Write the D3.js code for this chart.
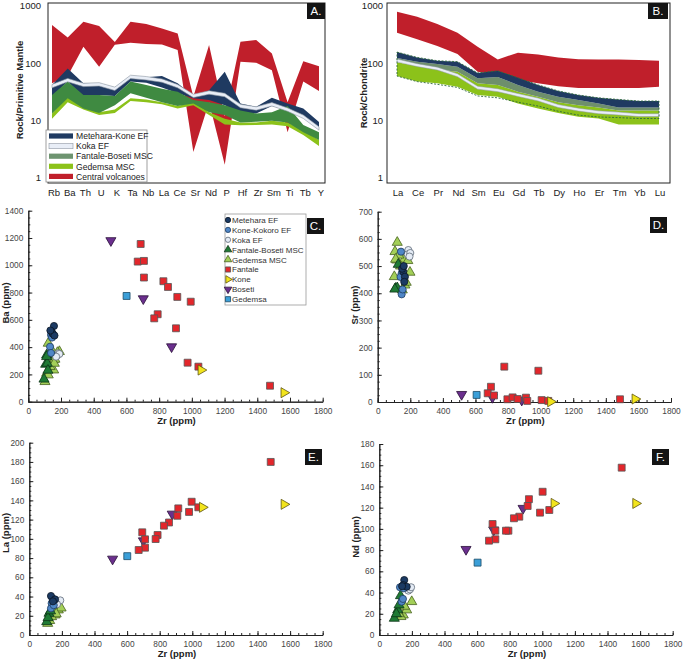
<!DOCTYPE html>
<html><head><meta charset="utf-8">
<script src="https://cdn.jsdelivr.net/npm/d3@7"></script>
<style>body{margin:0;background:#fff}svg{display:block}text{font-family:"Liberation Sans",Arial,sans-serif}</style>
</head><body><svg id="c" width="685" height="662"></svg>
<script>
// ---------- Panel A data (normalised to primitive mantle) ----------
const elemA = ["Rb","Ba","Th","U","K","Ta","Nb","La","Ce","Sr","Nd","P","Hf","Zr","Sm","Ti","Tb","Y"];
const cvA_hi = [466,283,532,447,235,532,484,407,333,26,208,12,238,255,149,21,109,89];
const cvA_lo = [45,60,195,87,210,229,217,213,170,2.85,21,1.7,107,102,76,6.3,48,33];
const mkA_hi = [42,81,45,45,38,60,57,60,45,27,34,71,20,17.5,25,20,16.3,9.5];
const mkA_lo = [26,48,26,28,27,48,46,38,30,24.6,23,18.6,14,13.3,18,15,11.7,7.3];
const kokaA  = [40,51,42,43,36,58,55,50,40,27,31,28,18,16.3,19.3,15.6,11.7,7.3];
const fbA_hi = [28,48,28,28,27,48,42,36,32,23,21,18.6,15,13.3,14,18,8.4,6.3];
const fbA_lo = [13.3,24.6,16.3,13.6,18.6,30,25,21,18,20,14,12.5,9.3,9.6,10,9.3,6.3,4.6];
const gmA_hi = [13.3,26,17.5,14,15.6,24.6,23.5,21,18,21,14,10.8,9.3,9.3,10,9.3,6.8,4.6];
const gmA_lo = [10.8,21,15.6,12.5,13.6,22,21,19.3,16.3,18.6,12.5,8.6,8.3,8.4,8.6,8,5.6,3.6];

// ---------- Panel B data (normalised to chondrite) ----------
const elemB = ["La","Ce","Pr","Nd","Sm","Eu","Gd","Tb","Dy","Ho","Er","Tm","Yb","Lu"];
const cvB_hi = [796,651,484,342,195,117,153,143,127,118,117,117,114,111];
const cvB_lo = [342,262,200,145,71,62,51,45,40,37,37,37,37,39];
const mkB_hi = [157,127,111,107,68,74,56,42,33,28,25,23.4,22,22];
const mkB_lo = [124,107,97,87,55,58,42,32,26,23,20,17,17,17];
const fbB_lo = [118,90,78,71,45,42,32,26,21,18.6,17,15,15,15];
const gmB_hi = [104,90,78,71,45,42,32,26,21,18.6,17,15,15,15];
const gmB_lo = [60,48,45,39,28,26,20,16.3,13.6,11.7,10.9,8.6,8.6,8.6];
const kokaB  = [112,93,81,62,37.6,34,28,23.4,18,15.6,14,13.3,12.5,12.5];
const fbOutlineB_lo = [60,48,43,38,27,25,21,18,14.6,12.5,11.6,11.3,10.9,10.9];

const tickLog = [1,10,100,1000];
const legendA = ["Metehara-Kone EF","Koka EF","Fantale-Boseti MSC","Gedemsa MSC","Central volcanoes"];

// ---------- Scatter data [Zr, value] ----------
// Panel C: Ba
const meteharaC = [[157,555],[143,513],[150,498],[160,485],[135,522]];
const koneKokoroC = [[139,489],[133,403],[139,357],[150,492],[145,470]];
const kokaC = [[183,355],[175,337],[190,350],[170,330]];
const fbMscC = [[112,342],[106,274],[96,165],[116,281],[112,330],[120,230]];
const gmMscC = [[122,428],[153,306],[155,232],[112,208],[190,367],[102,147],[133,257],[163,311],[143,379],[159,281],[122,196],[178,360]];
const fantaleC = [[687,1156],[669,1027],[707,1032],[707,910],[826,883],[854,841],[911,768],[993,733],[791,641],[770,611],[903,538],[974,286],[1040,257],[1478,117]];
const koneC = [[1056,232],[1563,66]];
const bosetiC = [[505,1181],[703,755],[876,403]];
const gedemsaC = [[601,775]];
// Panel D: Sr
const meteharaD = [[157,479],[167,461],[163,442],[150,490],[160,500]];
const koneKokoroD = [[143,553],[147,473],[147,396],[153,414],[140,460]];
const kokaD = [[188,559],[184,543],[200,548],[195,535]];
const fbMscD = [[110,418],[126,506],[120,420],[105,415]];
const gmMscD = [[120,587],[106,553],[117,522],[198,477],[163,525],[102,461],[167,430],[151,412],[185,520],[130,540],[140,500],[110,525],[175,440]];
const fantaleD = [[777,130],[986,115],[695,56],[675,32],[714,24],[796,10],[828,17],[859,11],[910,16],[918,4],[1006,7],[1047,4],[1487,10]];
const koneD = [[1061,1],[1579,11]];
const bosetiD = [[515,28],[704,17],[884,7]];
const gedemsaD = [[607,26]];
// Panel E: La
const meteharaE = [[133,40.6],[158,37],[145,35]];
const koneKokoroE = [[137,33],[133,27.7],[150,31],[142,38]];
const kokaE = [[178,34.6],[190,36],[170,32]];
const fbMscE = [[107,13.8],[121,22.5],[115,18],[130,25]];
const gmMscE = [[178,26],[158,20.8],[137,19],[113,12],[195,28],[150,24],[125,15],[165,22]];
const fantaleE = [[1481,180],[996,138.6],[914,131.7],[1037,132.8],[980,128],[908,124],[857,117],[826,113.7],[787,104],[775,99.8],[693,106.8],[710,99.5],[710,90.8],[671,88.4]];
const koneE = [[1062,132.8],[1563,135.9]];
const bosetiE = [[511,79],[700,98],[877,125.8]];
const gedemsaE = [[601,82]];
// Panel F: Nd
const meteharaF = [[153,51.8],[147,47],[168,45.5],[140,46]];
const koneKokoroF = [[137,31.4],[127,45],[145,34],[150,44]];
const kokaF = [[178,41.8],[188,43],[195,45]];
const fbMscF = [[92,15.7],[113,23.6],[121,28.3],[130,37],[105,20]];
const gmMscF = [[199,31.4],[147,18.8],[168,23.6],[133,17.3],[155,27],[120,20]];
const fantaleF = [[1487,157.7],[1002,135],[918,128],[910,121.6],[859,111.5],[826,110],[986,115.3],[1043,117.8],[792,98.3],[777,98.3],[695,104.6],[712,98.3],[712,90.2],[673,88.9]];
const koneF = [[1072,124],[1573,124]];
const bosetiF = [[532,80.7],[702,99],[882,119.4]];
const gedemsaF = [[603,68.2]];

const legendC = ["Metehara EF","Kone-Kokoro EF","Koka EF","Fantale-Boseti MSC","Gedemsa MSC","Fantale","Kone","Boseti","Gedemsa"];
const zrTicks = [0,200,400,600,800,1000,1200,1400,1600,1800];

// ---------- drawing ----------
const svg = d3.select("#c");
const C = {red:"#c01f2b", navy:"#1f3a61", koka:"#e9eef7", fb:"#3f8a41", fbB:"#6e8f6c", fbLeg:"#6e9470", lime:"#8cc21a"};

function labelBox(x,y,w,h,t){
  svg.append("rect").attr("x",x).attr("y",y).attr("width",w).attr("height",h).attr("fill","#141414");
  svg.append("text").attr("x",x+w/2).attr("y",y+h/2+4).attr("text-anchor","middle").attr("fill","#fff").attr("font-size",11.5).text(t);
}

function spider(elem, x0, x1, layers){
  const x = d3.scalePoint().domain(elem).range([x0,x1]);
  const y = d3.scaleLog().domain([0.818,1128]).range([183,3]);
  const g = svg.append("g");
  layers.forEach(L=>{
    const ar = d3.area().x((d,i)=>x(elem[i])).y0((d,i)=>y(L.lo[i])).y1((d,i)=>y(L.hi[i])).curve(d3.curveLinear);
    g.append("path").attr("d",ar(L.hi)).attr("fill",L.fill).attr("stroke",L.stroke||"none")
      .attr("stroke-width",L.sw||0).attr("stroke-dasharray",L.dash||null);
  });
  return {x,y};
}

// Panel A
const A = spider(elemA, 52, 319, [
  {hi:cvA_hi, lo:cvA_lo, fill:C.red},
  {hi:mkA_hi, lo:mkA_lo, fill:C.navy},
  {hi:gmA_hi, lo:gmA_lo, fill:C.lime},
  {hi:fbA_hi, lo:fbA_lo, fill:C.fb},
  {hi:kokaA.map(v=>v*1.07), lo:kokaA.map(v=>v/1.07), fill:C.koka, stroke:"#8f98a3", sw:0.6}
]);
svg.append("rect").attr("x",48).attr("y",3).attr("width",277).attr("height",180).attr("fill","none").attr("stroke","#222").attr("stroke-width",1);
tickLog.forEach(t=>svg.append("text").attr("x",41).attr("y",A.y(t)+3.5).attr("text-anchor","end").attr("font-size",9.5).attr("fill","#222").text(t));
elemA.forEach(e=>svg.append("text").attr("x",A.x(e)+2).attr("y",196).attr("text-anchor","middle").attr("font-size",9.5).attr("fill","#222").text(e));
svg.append("text").attr("transform","translate(23,90) rotate(-90)").attr("text-anchor","middle").attr("font-size",9.5).attr("font-weight","bold").attr("fill","#222").text("Rock/Primitive Mantle");
labelBox(307,3,18,16,"A.");
// legend A
svg.append("rect").attr("x",46).attr("y",130).attr("width",101).attr("height",52).attr("fill","#fff").attr("stroke","#888").attr("stroke-width",0.8);
const legCols = [[C.navy,null],[C.koka,"#8f98a3"],[C.fbLeg,null],[C.lime,null],[C.red,null]];
legendA.forEach((t,i)=>{
  const yy = 136 + i*10.1;
  svg.append("rect").attr("x",49).attr("y",yy-2.6).attr("width",24).attr("height",5.2).attr("fill",legCols[i][0]).attr("stroke",legCols[i][1]||"none").attr("stroke-width",0.6);
  svg.append("text").attr("x",76).attr("y",yy+3.2).attr("font-size",8.6).attr("fill","#222").text(t);
});

// Panel B
const B = spider(elemB, 397, 659, [
  {hi:cvB_hi, lo:cvB_lo, fill:C.red},
  {hi:gmB_hi, lo:gmB_lo, fill:C.lime},
  {hi:mkB_lo, lo:fbB_lo, fill:C.fbB},
  {hi:mkB_hi, lo:mkB_lo, fill:C.navy},
  {hi:kokaB.map(v=>v*1.06), lo:kokaB.map(v=>v/1.06), fill:C.koka, stroke:"#8f98a3", sw:0.5},
  {hi:mkB_hi, lo:fbOutlineB_lo, fill:"none", stroke:"#2f6a3c", sw:0.9, dash:"2,1.5"}
]);
svg.append("rect").attr("x",387).attr("y",3).attr("width",283).attr("height",180).attr("fill","none").attr("stroke","#222").attr("stroke-width",1);
tickLog.forEach(t=>svg.append("text").attr("x",383).attr("y",B.y(t)+3.5).attr("text-anchor","end").attr("font-size",9.5).attr("fill","#222").text(t));
elemB.forEach(e=>svg.append("text").attr("x",B.x(e)+1).attr("y",196).attr("text-anchor","middle").attr("font-size",9.5).attr("fill","#222").text(e));
svg.append("text").attr("transform","translate(367,93) rotate(-90)").attr("text-anchor","middle").attr("font-size",9.5).attr("font-weight","bold").attr("fill","#222").text("Rock/Chondrite");
labelBox(648,3,20,16,"B.");

// ---------- scatter panels ----------
const sty = {
  metehara:{t:"c", f:"#1b3a63", s:"#0b1626"},
  koneKokoro:{t:"c", f:"#4f86c6", s:"#1f3d63"},
  koka:{t:"c", f:"#e4ebf5", s:"#5f6b78"},
  fbMsc:{t:"tu", f:"#1f7a34", s:"#0c3516"},
  gmMsc:{t:"tu", f:"#a3cf58", s:"#48621f"},
  fantale:{t:"sq", f:"#e3262b", s:"#555"},
  kone:{t:"tr", f:"#f2e41c", s:"#5e5410"},
  boseti:{t:"td", f:"#6b2f8e", s:"#2a1038"},
  gedemsa:{t:"sq", f:"#3b9fd8", s:"#1b4a66"}
};
const symType = {c:d3.symbolCircle, sq:d3.symbolSquare, tu:d3.symbolTriangle, tr:d3.symbolTriangle, td:d3.symbolTriangle};
const symSize = {c:40, sq:48, tu:44, tr:44, td:44};
const rot = {c:0, sq:0, tu:0, tr:90, td:180};
function mark(g, key, px, py, k){
  const s = sty[key];
  const sz = symSize[s.t]*(k||1);
  g.append("path").attr("d",d3.symbol().type(symType[s.t]).size(sz)()).attr("transform",`translate(${px},${py}) rotate(${rot[s.t]})`)
    .attr("fill",s.f).attr("stroke",s.s).attr("stroke-width",0.8);
}

function scatter(cfg){
  const x = d3.scaleLinear().domain([0,1800]).range([cfg.x0,cfg.x1]);
  const y = d3.scaleLinear().domain([0,cfg.ymax]).range([cfg.y0,cfg.y1]);
  const g = svg.append("g");
  const fmt = d3.format("d");
  g.append("g").attr("transform",`translate(0,${cfg.y0})`)
    .call(d3.axisBottom(x).tickValues(zrTicks).tickFormat(fmt).tickSizeInner(-4).tickSizeOuter(0).tickPadding(6));
  g.append("g").attr("transform",`translate(0,${cfg.y0})`)
    .call(d3.axisBottom(x).tickValues(d3.range(0,1801,50)).tickSizeInner(-2).tickSizeOuter(0).tickFormat(""));
  g.append("g").attr("transform",`translate(${cfg.x0},0)`)
    .call(d3.axisLeft(y).tickValues(cfg.yticks).tickFormat(fmt).tickSizeInner(-4).tickSizeOuter(0).tickPadding(5));
  g.append("g").attr("transform",`translate(${cfg.x0},0)`)
    .call(d3.axisLeft(y).tickValues(d3.range(0,cfg.ymax+0.001,cfg.ymin)).tickSizeInner(-2).tickSizeOuter(0).tickFormat(""));
  g.selectAll(".domain").attr("stroke","#222").attr("stroke-width",1);
  g.selectAll(".tick line").attr("stroke","#222");
  g.selectAll(".tick text").attr("font-size",8.3).attr("fill","#444").attr("font-family","Liberation Sans, Arial, sans-serif");
  svg.append("text").attr("x",(cfg.x0+cfg.x1)/2+1).attr("y",cfg.y0+22).attr("text-anchor","middle").attr("font-size",9.5).attr("font-weight","bold").attr("fill","#222").text("Zr (ppm)");
  svg.append("text").attr("transform",`translate(${cfg.tx},${cfg.ty}) rotate(-90)`).attr("text-anchor","middle").attr("font-size",9.5).attr("font-weight","bold").attr("fill","#222").text(cfg.title);
  const order = ["gmMsc","fbMsc","koka","koneKokoro","metehara","gedemsa","boseti","fantale","kone"];
  order.forEach(k=>cfg.data[k].forEach(d=>mark(g,k,x(d[0]),y(d[1]))));
  if(cfg.legend) cfg.legend();
  labelBox(cfg.bx,cfg.by,17,16,cfg.label);
}

function drawLegendC(){
  svg.append("rect").attr("x",225).attr("y",214).attr("width",81).attr("height",91).attr("fill","#fff").attr("stroke","#999").attr("stroke-width",0.8);
  const legKeys = ["metehara","koneKokoro","koka","fbMsc","gmMsc","fantale","kone","boseti","gedemsa"];
  const lg = svg.append("g");
  legendC.forEach((t,i)=>{
    const yy = 220 + i*9.9;
    mark(lg, legKeys[i], 228, yy, 0.55);
    lg.append("text").attr("x",232).attr("y",yy+2.9).attr("font-size",8).attr("fill","#333").text(t);
  });
}

scatter({x0:28.3,x1:322.7,y0:401.7,y1:210.7,ymax:1400,ymin:50,yticks:d3.range(0,1401,200),title:"Ba (ppm)",tx:9,ty:303,bx:307,by:218,label:"C.",legend:drawLegendC,
  data:{metehara:meteharaC,koneKokoro:koneKokoroC,koka:kokaC,fbMsc:fbMscC,gmMsc:gmMscC,fantale:fantaleC,kone:koneC,boseti:bosetiC,gedemsa:gedemsaC}});
scatter({x0:377.7,x1:671,y0:402,y1:211.7,ymax:700,ymin:25,yticks:d3.range(0,701,100),title:"Sr (ppm)",tx:358,ty:305,bx:650,by:217,label:"D.",
  data:{metehara:meteharaD,koneKokoro:koneKokoroD,koka:kokaD,fbMsc:fbMscD,gmMsc:gmMscD,fantale:fantaleD,kone:koneD,boseti:bosetiD,gedemsa:gedemsaD}});
scatter({x0:29.3,x1:322.7,y0:635,y1:442.7,ymax:200,ymin:5,yticks:d3.range(0,201,20),title:"La (ppm)",tx:9,ty:533,bx:305,by:449,label:"E.",
  data:{metehara:meteharaE,koneKokoro:koneKokoroE,koka:kokaE,fbMsc:fbMscE,gmMsc:gmMscE,fantale:fantaleE,kone:koneE,boseti:bosetiE,gedemsa:gedemsaE}});
scatter({x0:379.3,x1:672.7,y0:635,y1:444,ymax:180,ymin:5,yticks:d3.range(0,181,20),title:"Nd (ppm)",tx:359,ty:537,bx:652,by:449,label:"F.",
  data:{metehara:meteharaF,koneKokoro:koneKokoroF,koka:kokaF,fbMsc:fbMscF,gmMsc:gmMscF,fantale:fantaleF,kone:koneF,boseti:bosetiF,gedemsa:gedemsaF}});
</script></body></html>
